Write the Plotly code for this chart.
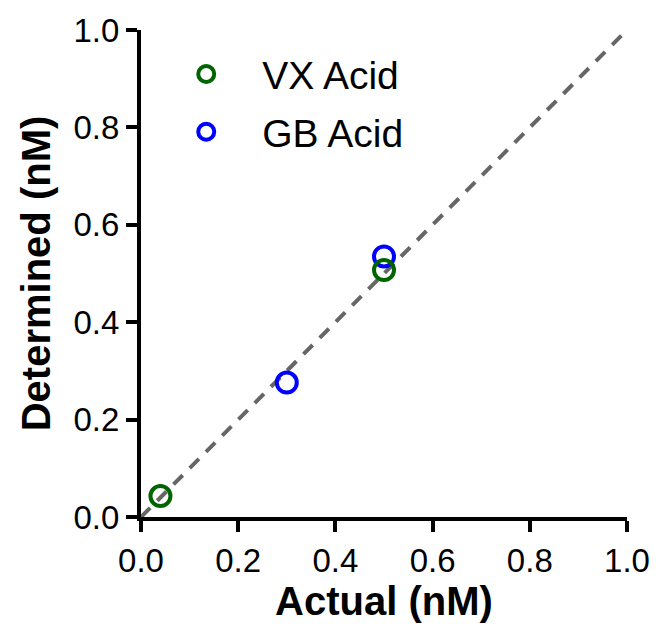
import plotly.graph_objects as go

# Data
vx_actual = [0.04, 0.50]
vx_determined = [0.043, 0.507]
gb_actual = [0.30, 0.50]
gb_determined = [0.276, 0.535]
identity_x = [0.0, 1.0]
identity_y = [0.0, 1.0]
tick_vals = [0.0, 0.2, 0.4, 0.6, 0.8, 1.0]
tick_text = ["0.0", "0.2", "0.4", "0.6", "0.8", "1.0"]

FONT = "Liberation Sans, Arial, sans-serif"

fig = go.Figure()
fig.add_trace(go.Scatter(
    x=identity_x, y=identity_y, mode="lines",
    line=dict(color="#666666", width=4, dash="13px,10px"),
    showlegend=False, hoverinfo="skip"))
fig.add_trace(go.Scatter(
    x=gb_actual, y=gb_determined, mode="markers", name="GB Acid",
    legendrank=2, legendgroup="gb",
    marker=dict(symbol="circle-open", size=20, color="#0000FF",
                line=dict(width=4, color="#0000FF"))))
fig.add_trace(go.Scatter(
    x=vx_actual, y=vx_determined, mode="markers", name="VX Acid",
    legendrank=1, legendgroup="vx",
    marker=dict(symbol="circle-open", size=20, color="#006400",
                line=dict(width=4, color="#006400"))))

axis_common = dict(
    range=[0, 1], showgrid=False, zeroline=False,
    showline=True, linecolor="black", linewidth=4,
    ticks="outside", ticklen=11, tickwidth=4, tickcolor="black",
    tickvals=tick_vals, ticktext=tick_text,
    tickfont=dict(family=FONT, size=33, color="black"),
)

fig.update_layout(
    width=656, height=626,
    margin=dict(l=141, r=29, t=30, b=109, autoexpand=False),
    paper_bgcolor="white", plot_bgcolor="white",
    font=dict(family=FONT, color="black"),
    xaxis=dict(**axis_common, automargin=False,
               title=dict(text="<b>Actual (nM)</b>", font=dict(family=FONT, size=40), standoff=7)),
    yaxis=dict(**axis_common, automargin=False,
               title=dict(text="<b>Determined (nM)</b>", font=dict(family=FONT, size=40), standoff=12)),
    legend=dict(x=0.019, y=0.975, xanchor="left", yanchor="top",
                font=dict(family=FONT, size=39, color="black"),
                bgcolor="rgba(0,0,0,0)", itemwidth=102, tracegroupgap=4),
)

fig.write_html("out.html")
